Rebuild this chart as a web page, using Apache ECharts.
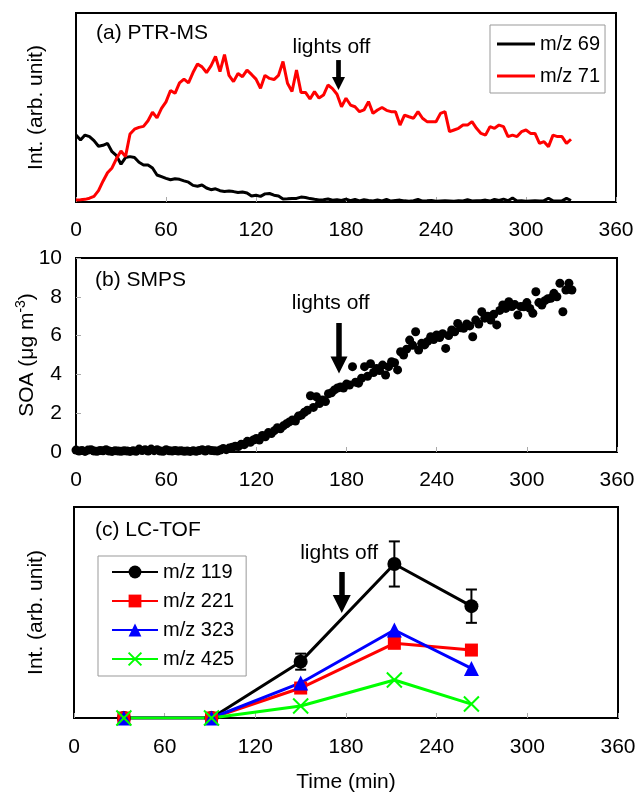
<!DOCTYPE html>
<html><head><meta charset="utf-8">
<script src="https://cdn.jsdelivr.net/npm/echarts@6/dist/echarts.min.js"></script>
<style>html,body{margin:0;padding:0;background:#fff}#c{width:638px;height:795px}</style>
</head><body><div id="c"></div>
<script>
// ---------- Panel (a) PTR-MS ----------
const ptrTime = [0,3,6,9,12,15,18,21,24,27,30,33,36,39,42,45,48,51,54,57,60,63,66,69,72,75,78,81,84,87,90,93,96,99,102,105,108,111,114,117,120,123,126,129,132,135,138,141,144,147,150,153,156,159,162,165,168,171,174,177,180,183,186,189,192,195,198,201,204,207,210,213,216,219,222,225,228,231,234,237,240,243,246,249,252,255,258,261,264,267,270,273,276,279,282,285,288,291,294,297,300,303,306,309,312,315,318,321,324,327,330];
const mz69 = [35.4,32.8,35.4,34.6,32.5,29.5,30,31,26.6,24.5,
  20,23.5,24,23.5,21,19.6,19.6,18,14.3,13.4,
  12.5,11.8,12.3,12,11.2,10.5,8.8,8.3,9,7.4,
  6.5,7,6,5.6,5.8,5.5,5,5.3,4.8,3.2,
  3.6,3,4.3,4.5,3.6,3.2,1.6,1.7,1.9,1.9,
  2.6,2.4,1.8,1.4,1.1,1.2,1.6,0.9,1.2,0.8,
  1.5,0.7,1.4,0.6,1.2,0.8,0.5,1.1,0.6,1.3,
  0.5,0.8,1,0.6,0.4,0.7,1.3,0.5,0.6,0.8,
  0.4,0.5,0.6,0.5,0.4,0.7,0.5,1.2,0.5,0.6,
  0.7,1,0.5,1.4,0.8,1.5,0.7,2.1,0.5,0.6,
  0.4,0.5,0.6,0.5,0.7,2,0.6,0.5,0.6,1.9,
  0.8];
const mz71 = [1.1,1.2,1.4,2,3,6,11,15.5,18,23,
  27,24,36,38.5,39.5,40,43,47.5,44.5,49.5,
  53,59,57.5,63,65,63,68.5,73,71.5,68.5,
  72,77,69,78,67,63.7,68,66.3,69.8,67.5,
  65,60.2,67,65.4,64.8,67,74.3,62.8,58.5,69.8,
  58,58,54.5,58.4,55,56.6,61.9,60,57,50.4,
  54.9,51.3,50.4,47.8,48.7,53.1,46.9,48.7,50,48.5,
  47.8,47.8,40.7,46,45.1,44.3,47.8,44.3,42.5,42.5,
  42.5,46.9,47.8,37.2,38.1,39,40.7,40.7,42.5,39,
  36.3,35.4,39.9,39,40.7,39.9,34.6,35.4,34.6,37.2,
  38.1,36.3,36.3,31,31.9,29.3,35.4,34.6,34.6,31,
  33.2];

// ---------- Panel (b) SMPS ----------
const smpsTime = [0,2,4,6,8,10,12,14,16,18,20,22,24,26,28,30,32,34,36,38,40,42,44,46,48,50,52,54,56,58,60,62,64,66,68,70,72,74,76,78,80,82,84,86,88,90,92,94,
  96,98,100,102,104,106,108,110,112,114,116,118,120,122,124,126,128,130,132,134,136,138,140,142,144,146,148,150,152,154,156,158,160,162,164,166,168,170,172,174,176,178,180,182,184,186,188,190,192,194,196,198,200,202,204,206,208,210,212,214,216,218,220,222,224,226,228,230,232,234,236,238,240,242,244,246,248,250,252,254,256,258,260,262,264,266,268,270,272,274,276,278,280,282,284,286,288,290,292,294,296,298,300,302,304,306,308,310,312,314,316,318,320,322,324,326,328,330];
const soa = [0.1,0.05,0.08,0.03,0.1,0.12,0.05,0.04,0.08,0.06,
  0.12,0.05,0.03,0.07,0.05,0.04,0.06,0.05,0.03,0.06,
  0.04,0.15,0.08,0.12,0.05,0.15,0.07,0.12,0.05,0.04,
  0.12,0.06,0.05,0.08,0.05,0.06,0.04,0.05,0.03,0.06,
  0.04,0.08,0.12,0.05,0.12,0.08,0.06,0.05,
  0.1,0.18,0.12,0.2,0.25,0.3,0.28,0.4,0.38,0.55,
  0.5,0.62,0.7,0.62,0.85,0.78,1.0,0.95,1.1,1.25,
  1.2,1.35,1.45,1.55,1.65,1.6,1.85,1.9,2.05,2.15,
  2.9,2.3,2.85,2.5,2.68,2.6,3.0,3.05,3.2,3.3,
  3.35,3.3,3.5,3.45,4.4,3.6,3.55,3.8,4.4,3.9,
  4.55,4.1,4.3,4.2,4.48,3.97,4.4,4.65,4.6,4.23,
  5.17,5.0,5.3,5.77,5.5,6.2,5.26,5.6,5.52,5.7,
  5.94,5.8,6.03,5.9,6.1,5.34,6.0,6.29,6.2,6.63,
  6.4,6.38,6.6,6.5,5.94,6.8,6.6,7.23,6.9,7.0,
  6.8,7.1,6.55,7.3,7.58,7.4,7.75,7.5,7.6,7.06,
  7.5,7.49,7.7,7.4,7.15,8.26,7.7,7.58,7.8,7.9,
  7.92,8.18,8.0,8.7,7.23,8.35,8.7,8.35];

// ---------- Panel (c) LC-TOF ----------
const lcTime = [33, 91, 150, 212, 263];
const lc119 = [0, 0, 26.7, 73, 53];
const lc119Err = [0, 0, 3.8, 10.7, 7.9];
const lc221 = [0, 0, 14.2, 35.4, 32.2];
const lc323 = [0, 0, 16.6, 41.7, 23.5];
const lc425 = [0, 0, 5.7, 18, 6.6];

const xTicks = [0, 60, 120, 180, 240, 300, 360];
const soaTicks = [0, 2, 4, 6, 8, 10];

const FONT = 'Liberation Sans, Arial, sans-serif';
const pairs = (xs, ys) => xs.map((x, i) => [x, ys[i]]);

const baseX = (gi, margin, extra) => Object.assign({
  type: 'value', gridIndex: gi, min: xTicks[0], max: xTicks[xTicks.length - 1], interval: 60,
  axisLine: {show: false},
  axisTick: {show: true, inside: true, length: 5, lineStyle: {color: '#aaa', width: 1}},
  splitLine: {show: false},
  axisLabel: {fontSize: 21, color: '#000', fontFamily: FONT, margin: margin}
}, extra || {});

const hiddenY = (gi, extra) => Object.assign({
  type: 'value', gridIndex: gi, min: 0, max: 100,
  axisLine: {show: false}, axisTick: {show: false}, axisLabel: {show: false}, splitLine: {show: false},
  nameLocation: 'middle', nameMoveOverlap: false, nameTextStyle: {fontSize: 21, color: '#000', fontFamily: FONT}
}, extra || {});

const arrowLine = (x, yTop, yEnd, w, head) => ({
  silent: true, symbol: ['none', 'triangle'], symbolSize: [head, head],
  lineStyle: {color: '#000', width: w, type: 'solid'},
  itemStyle: {color: '#000'},
  label: {show: false}, emphasis: {disabled: true},
  data: [[{coord: [x, yTop]}, {coord: [x, yEnd]}]]
});
const lightsText = (x, y) => ({
  silent: true, symbol: 'circle', symbolSize: 0,
  label: {show: true, position: 'inside', formatter: 'lights off', fontSize: 21, color: '#000', fontFamily: FONT},
  data: [{coord: [x, y]}]
});

const xPath = 'path://M0,0L10,10M10,0L0,10';
const gridBase = {show: true, borderColor: '#000', borderWidth: 2, backgroundColor: 'transparent', outerBoundsMode: 'none', containLabel: false};

const option = {
  animation: false,
  backgroundColor: '#fff',
  textStyle: {fontFamily: FONT},
  grid: [
    Object.assign({left: 76, top: 13, width: 540, height: 189}, gridBase),
    Object.assign({left: 76, top: 258, width: 541, height: 194}, gridBase),
    Object.assign({left: 74, top: 507, width: 544, height: 211}, gridBase)
  ],
  xAxis: [
    baseX(0, 18),
    baseX(1, 18),
    baseX(2, 19, {name: 'Time (min)', nameLocation: 'middle', nameGap: 54, nameMoveOverlap: false, nameTextStyle: {fontSize: 21, color: '#000', fontFamily: FONT}})
  ],
  yAxis: [
    hiddenY(0, {name: 'Int. (arb. unit)', nameGap: 29}),
    {
      type: 'value', gridIndex: 1, min: soaTicks[0], max: soaTicks[soaTicks.length - 1], interval: 2,
      axisLine: {show: false},
      axisTick: {show: true, inside: true, length: 5, lineStyle: {color: '#aaa'}},
      splitLine: {show: false},
      axisLabel: {fontSize: 21, color: '#000', fontFamily: FONT, margin: 14},
      name: '{a|SOA (μg m}{s|-3}{a|)}', nameLocation: 'middle', nameGap: 38, nameMoveOverlap: false,
      nameTextStyle: {rich: {
        a: {fontSize: 21, color: '#000', fontFamily: FONT, lineHeight: 24, verticalAlign: 'bottom'},
        s: {fontSize: 14, color: '#000', fontFamily: FONT, lineHeight: 24, verticalAlign: 'top'}
      }}
    },
    hiddenY(2, {name: 'Int. (arb. unit)', nameGap: 27})
  ],
  legend: [
    {
      data: [{name: 'm/z 69', icon: 'rect'}, {name: 'm/z 71', icon: 'rect'}],
      orient: 'vertical', left: 490, top: 25,
      padding: [9, 5, 7, 7], itemWidth: 38, itemHeight: 3, itemGap: 12,
      borderColor: '#999', borderWidth: 1, selectedMode: false,
      textStyle: {fontSize: 20, color: '#000', fontFamily: FONT}
    },
    {
      data: ['m/z 119', 'm/z 221', 'm/z 323', 'm/z 425'], orient: 'vertical', left: 98, top: 556,
      padding: [6, 12, 7, 13], itemWidth: 46, itemHeight: 16, itemGap: 9,
      borderColor: '#999', borderWidth: 1, selectedMode: false,
      textStyle: {fontSize: 20, color: '#000', fontFamily: FONT}
    }
  ],
  graphic: [
    {type: 'text', x: 96, y: 33, style: {text: '(a) PTR-MS', fontSize: 21, fontFamily: FONT, fill: '#000', verticalAlign: 'middle'}},
    {type: 'text', x: 95, y: 280, style: {text: '(b) SMPS', fontSize: 21, fontFamily: FONT, fill: '#000', verticalAlign: 'middle'}},
    {type: 'text', x: 95, y: 530, style: {text: '(c) LC-TOF', fontSize: 21, fontFamily: FONT, fill: '#000', verticalAlign: 'middle'}}
  ],
  series: [
    {
      name: 'm/z 69', type: 'line', xAxisIndex: 0, yAxisIndex: 0, symbol: 'none',
      data: pairs(ptrTime, mz69), lineStyle: {color: '#000', width: 3}, itemStyle: {color: '#000'}
    },
    {
      name: 'm/z 71', type: 'line', xAxisIndex: 0, yAxisIndex: 0, symbol: 'none',
      data: pairs(ptrTime, mz71), lineStyle: {color: '#ff0000', width: 3}, itemStyle: {color: '#ff0000'},
      markLine: arrowLine(175, 75.1, 62.7, 4.7, 13),
      markPoint: lightsText(170.3, 82)
    },
    {
      name: 'SOA', type: 'scatter', xAxisIndex: 1, yAxisIndex: 1, symbol: 'circle', symbolSize: 9,
      data: pairs(smpsTime, soa), itemStyle: {color: '#000', opacity: 1},
      markLine: arrowLine(175, 6.65, 4.48, 5.5, 17),
      markPoint: lightsText(169.5, 7.68)
    },
    {
      name: 'err119', type: 'custom', xAxisIndex: 2, yAxisIndex: 2, silent: true,
      data: lcTime.map((x, i) => [x, lc119[i] - lc119Err[i], lc119[i] + lc119Err[i]]).filter((d, i) => lc119Err[i] > 0),
      renderItem: function (params, api) {
        const x = api.value(0), lo = api.value(1), hi = api.value(2);
        const a = api.coord([x, lo]), b = api.coord([x, hi]);
        const w = 5.5, st = {stroke: '#000', lineWidth: 2};
        return {type: 'group', children: [
          {type: 'line', shape: {x1: a[0], y1: a[1], x2: b[0], y2: b[1]}, style: st},
          {type: 'line', shape: {x1: a[0] - w, y1: a[1], x2: a[0] + w, y2: a[1]}, style: st},
          {type: 'line', shape: {x1: b[0] - w, y1: b[1], x2: b[0] + w, y2: b[1]}, style: st}
        ]};
      }
    },
    {
      name: 'm/z 119', type: 'line', xAxisIndex: 2, yAxisIndex: 2, symbol: 'circle', symbolSize: 14,
      data: pairs(lcTime, lc119), lineStyle: {color: '#000', width: 3}, itemStyle: {color: '#000'},
      markLine: arrowLine(177.2, 69.2, 54, 5.5, 18),
      markPoint: lightsText(175.4, 78.3)
    },
    {
      name: 'm/z 221', type: 'line', xAxisIndex: 2, yAxisIndex: 2, symbol: 'rect', symbolSize: 13,
      data: pairs(lcTime, lc221), lineStyle: {color: '#ff0000', width: 3}, itemStyle: {color: '#ff0000'}
    },
    {
      name: 'm/z 323', type: 'line', xAxisIndex: 2, yAxisIndex: 2, symbol: 'triangle', symbolSize: 15,
      data: pairs(lcTime, lc323), lineStyle: {color: '#0000ff', width: 3}, itemStyle: {color: '#0000ff'}
    },
    {
      name: 'm/z 425', type: 'line', xAxisIndex: 2, yAxisIndex: 2, symbol: xPath, symbolSize: 15,
      data: pairs(lcTime, lc425), lineStyle: {color: '#00ff00', width: 3},
      itemStyle: {color: '#00ff00', borderColor: '#00ff00', borderWidth: 2}
    }
  ]
};

const chart = echarts.init(document.getElementById('c'), null, {renderer: 'canvas'});
chart.setOption(option);
</script>
</body></html>
